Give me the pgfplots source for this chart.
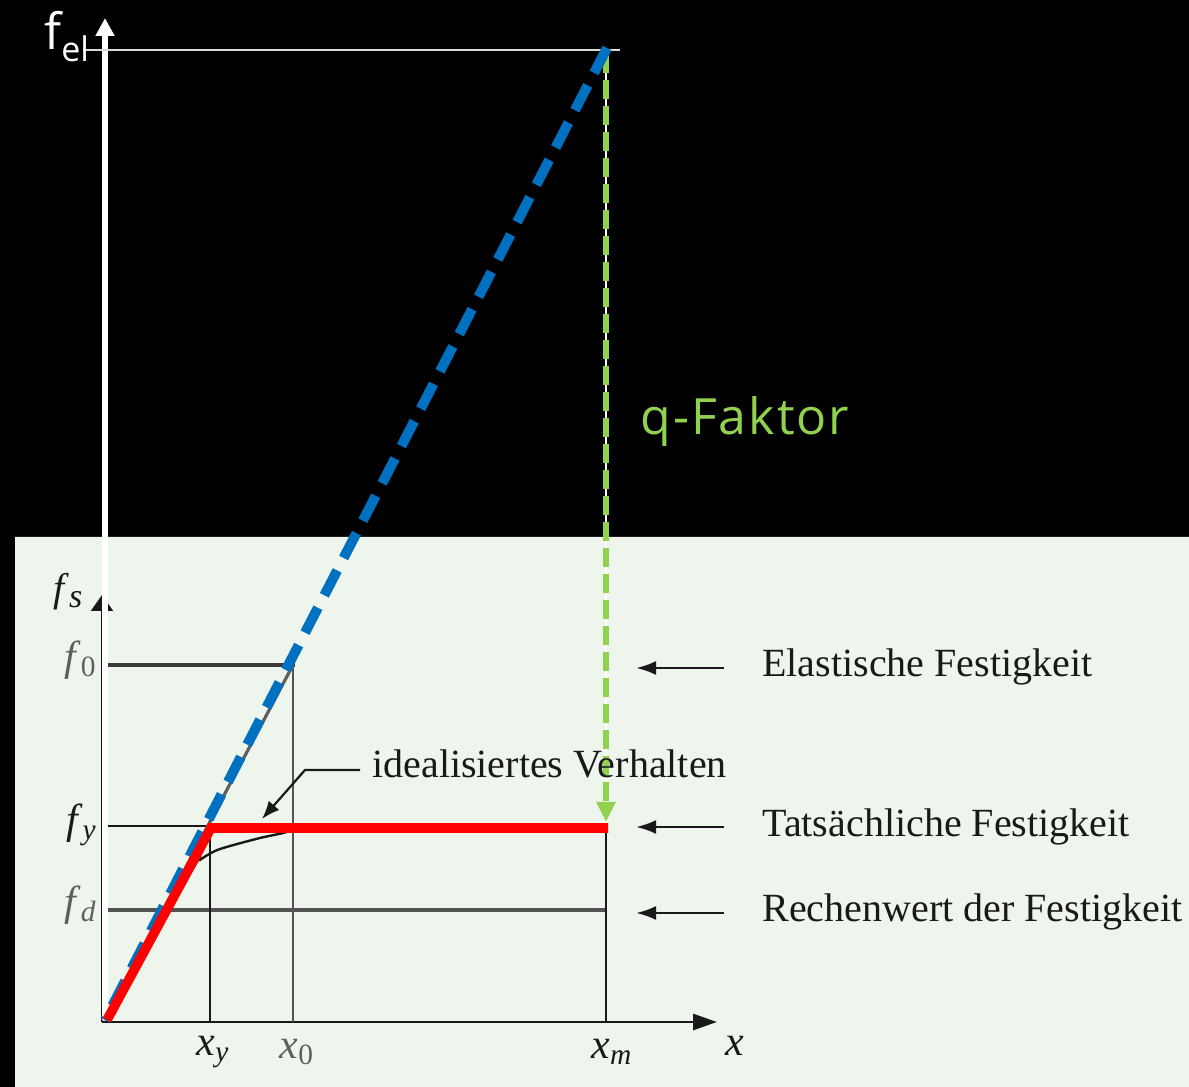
\documentclass[border=0pt]{standalone}
\usepackage{pgfplots}
\pgfplotsset{compat=1.18}
\usepackage{fontspec}
\setmainfont{Liberation Serif}
\newfontfamily\labelsans{Open Sans}
\usetikzlibrary{arrows.meta}

\definecolor{panel}{RGB}{238,245,236}
\definecolor{elblue}{RGB}{0,112,192}
\definecolor{qgreen}{RGB}{146,208,80}
\definecolor{ink}{RGB}{25,25,25}
\definecolor{inkgray}{RGB}{95,95,95}

\newcommand{\serifbig}{\fontsize{20}{24}\selectfont}

\begin{document}
\begin{tikzpicture}
\begin{axis}[
  width=594.5pt, height=543.5pt, scale only axis,
  xmin=0, xmax=1189, ymin=0, ymax=1087,
  axis lines=none, clip=false,
]
% backgrounds: dark slide and the light diagram panel
\addplot[fill=black, draw=none] coordinates {(0,0) (1189,0) (1189,1087) (0,1087)} \closedcycle;
\addplot[fill=panel, draw=none] coordinates {(15,0) (1189,0) (1189,550) (15,550)} \closedcycle;

% --- diagram of the panel ---
% fs axis and x axis
\addplot[ink, line width=1.2pt, -{Triangle[width=11pt,length=8pt]}] coordinates {(102,65) (102,492)};
\addplot[ink, line width=1.4pt, -{Triangle[width=8pt,length=12pt]}] coordinates {(102,65) (717,65)};
% strength levels
\addplot[ink!85, line width=1.7pt] coordinates {(108,422) (295,422)};
\addplot[ink, line width=1.3pt] coordinates {(108,261) (605,261)};
\addplot[ink!75, line width=1.7pt] coordinates {(108,177) (605,177)};
% displacement markers
\addplot[ink, line width=1.2pt] coordinates {(210,261) (210,65)};
\addplot[ink!75, line width=1.1pt] coordinates {(293,422) (293,65)};
\addplot[ink, line width=1.2pt] coordinates {(606,261) (606,65)};
% elastic branch
\addplot[inkgray, line width=1.6pt] coordinates {(105,67) (293,422)};
% real behaviour
\addplot[ink, line width=1.2pt, smooth] coordinates {(105,67) (192,217) (200,227) (215,236) (230,241) (260,249) (283,254) (300,259) (320,261)};
% leader of the annotation
\addplot[ink, line width=1.1pt, -{Latex[width=7pt,length=9pt]}] coordinates {(360,317) (305,317) (262,268)};
% arrows to the right-hand labels
\addplot[ink, line width=1.3pt, -{Latex[width=7pt,length=10pt]}] coordinates {(724,419) (636,419)};
\addplot[ink, line width=1.3pt, -{Latex[width=7pt,length=10pt]}] coordinates {(724,260) (636,260)};
\addplot[ink, line width=1.3pt, -{Latex[width=7pt,length=10pt]}] coordinates {(724,174) (636,174)};

% --- elastic response on the slide ---
\addplot[white, line width=3pt, -{Triangle[width=9pt,length=9pt]}] coordinates {(105,67) (105,1069)};
\addplot[white!85!black, line width=1pt] coordinates {(83,1037) (620,1037)};
\addplot[white, line width=0.8pt] coordinates {(606,1037) (606,268)};
\addplot[qgreen, line width=3pt, dash pattern=on 9.5pt off 3.5pt, -{Triangle[width=9pt,length=10pt]}] coordinates {(606,1033) (606,265)};
\addplot[elblue, line width=5pt, dash pattern=on 14pt off 7pt] coordinates {(607,1039) (105,67)};

% idealised behaviour
\addplot[red, line width=4.8pt, line join=miter] coordinates {(107,67) (211,259) (608,259)};

% --- labels ---
\node[anchor=base west, white, inner sep=0pt] at (axis cs:44,1037)
  {\labelsans\fontsize{25}{25}\selectfont f\raisebox{-6pt}{\fontsize{17}{17}\selectfont el}};
\node[anchor=base west, qgreen, inner sep=0pt] at (axis cs:640,652)
  {\labelsans\addfontfeatures{LetterSpace=4}\fontsize{25}{28}\selectfont q-Faktor};

\node[anchor=base west, ink, inner sep=0pt] at (axis cs:53,485)
  {\serifbig\textit{f}\raisebox{-3pt}{\fontsize{17}{20}\selectfont\textit{s}}};
\node[anchor=east, inkgray, inner sep=0pt] at (axis cs:97,427) {\fontsize{21}{24}\selectfont\textit{f}\textsubscript{0}};
\node[anchor=east, ink, inner sep=0pt] at (axis cs:97,262) {\fontsize{21}{24}\selectfont\textit{f}\textsubscript{\textit{y}}};
\node[anchor=east, inkgray, inner sep=0pt] at (axis cs:97,182) {\fontsize{21}{24}\selectfont\textit{f}\textsubscript{\textit{d}}};

\node[ink, inner sep=0pt] at (axis cs:213,35) {\fontsize{21}{24}\selectfont\textit{x}\textsubscript{\textit{y}}};
\node[inkgray, inner sep=0pt] at (axis cs:297,35) {\fontsize{21}{24}\selectfont\textit{x}\textsubscript{0}};
\node[ink, inner sep=0pt] at (axis cs:612,35) {\fontsize{21}{24}\selectfont\textit{x}\textsubscript{\textit{m}}};
\node[ink, inner sep=0pt] at (axis cs:735,41) {\fontsize{21}{24}\selectfont\textit{x}};

\node[anchor=base west, ink, inner sep=0pt] at (axis cs:372,309) {\serifbig idealisiertes Verhalten};
\node[anchor=base west, ink, inner sep=0pt] at (axis cs:762,410) {\serifbig Elastische Festigkeit};
\node[anchor=base west, ink, inner sep=0pt] at (axis cs:762,250) {\serifbig Tatsächliche Festigkeit};
\node[anchor=base west, ink, inner sep=0pt] at (axis cs:762,165) {\serifbig Rechenwert der Festigkeit};
\end{axis}
\end{tikzpicture}
\end{document}
